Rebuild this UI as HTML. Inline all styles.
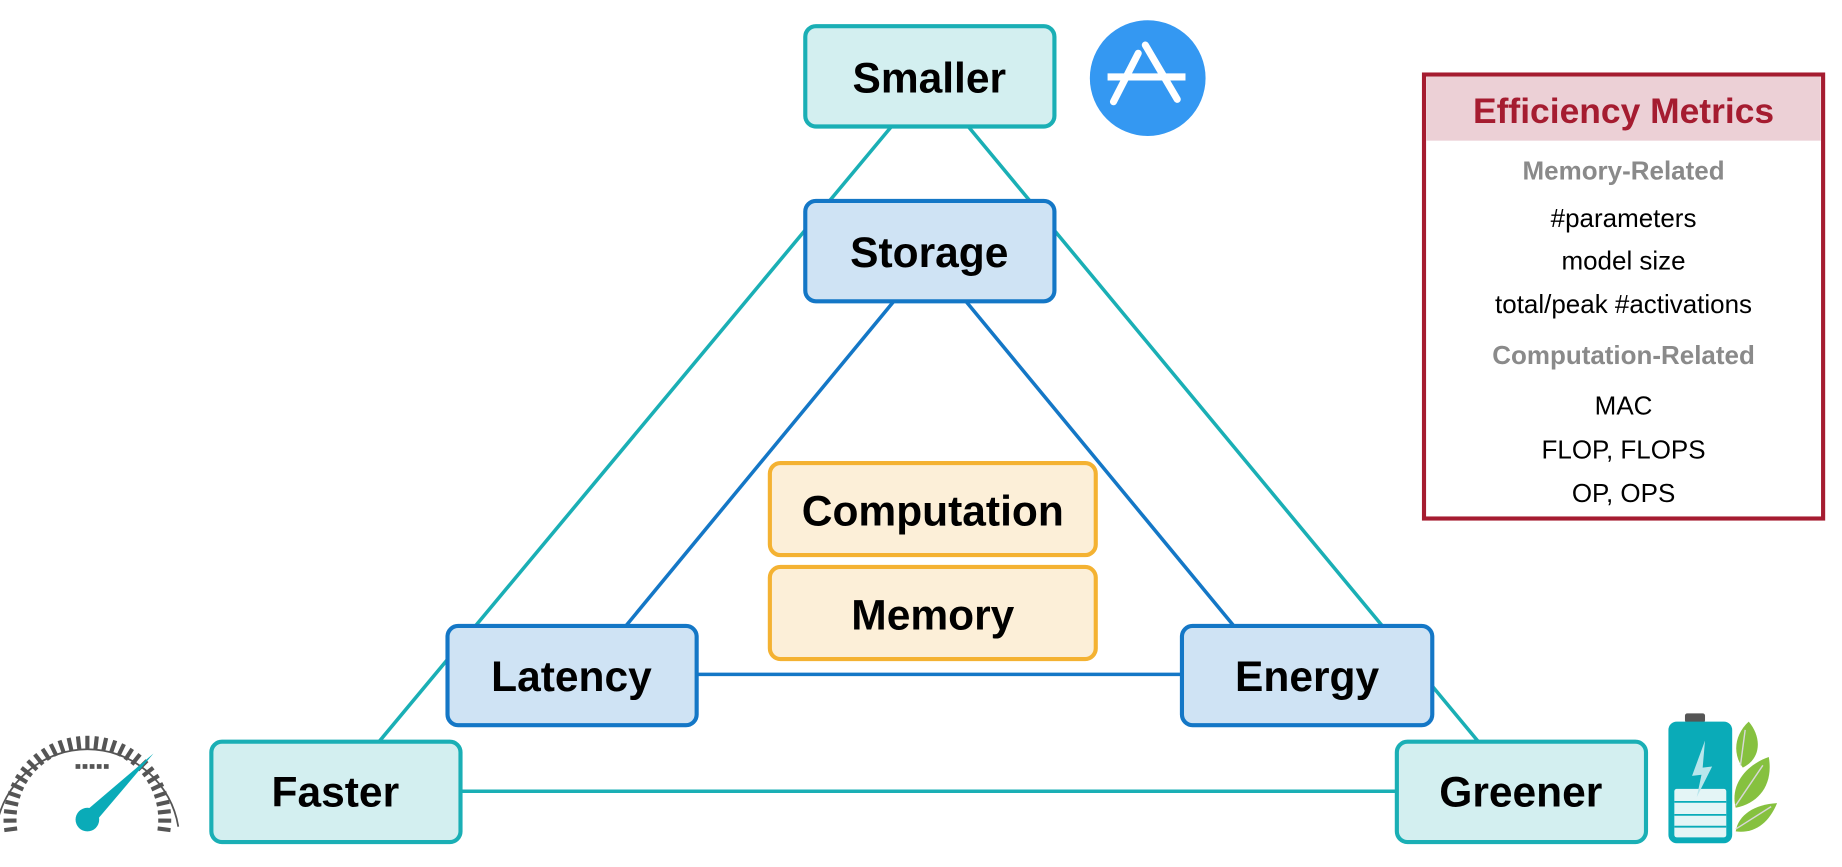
<!DOCTYPE html>
<html><head><meta charset="utf-8"><style>
html,body{margin:0;padding:0;background:#fff;}
svg{display:block;}
text{font-family:"Liberation Sans",Arial,sans-serif;}
</style></head><body>
<svg width="1842" height="867" viewBox="0 0 1560 734" xmlns="http://www.w3.org/2000/svg">
<g stroke="#1aafb5" stroke-width="3" fill="none">
<line x1="755" y1="107" x2="321" y2="628"/>
<line x1="820" y1="107" x2="1252" y2="628"/>
<line x1="390" y1="670" x2="1183" y2="670"/>
</g>
<g stroke="#1477c6" stroke-width="3" fill="none">
<line x1="757" y1="255" x2="530" y2="530"/>
<line x1="818" y1="255" x2="1045" y2="530"/>
<line x1="590" y1="571" x2="1001" y2="571"/>
</g>
<g stroke="#1aafb5" stroke-width="3.5" fill="#d3eff0">
<rect x="682" y="22" width="211" height="85" rx="9"/>
<rect x="179" y="628" width="211" height="85" rx="9"/>
<rect x="1183" y="628" width="211" height="85" rx="9"/>
</g>
<g stroke="#1477c6" stroke-width="3.5" fill="#cfe3f4">
<rect x="682" y="170" width="211" height="85" rx="9"/>
<rect x="379" y="530" width="211" height="84" rx="9"/>
<rect x="1001" y="530" width="212" height="84" rx="9"/>
</g>
<g stroke="#f4b232" stroke-width="3.5" fill="#fcefd8">
<rect x="652" y="392" width="276" height="78" rx="9"/>
<rect x="652" y="480" width="276" height="78" rx="9"/>
</g>
<g font-weight="bold" font-size="36" text-anchor="middle" fill="#000">
<text x="787" y="78">Smaller</text>
<text x="787" y="226">Storage</text>
<text x="484" y="585">Latency</text>
<text x="1107" y="585">Energy</text>
<text x="284" y="683">Faster</text>
<text x="1288" y="683">Greener</text>
<text x="790" y="445">Computation</text>
<text x="790" y="533">Memory</text>
</g>
<rect x="1206" y="63" width="338" height="376" fill="#fff" stroke="#a51c30" stroke-width="3.5"/>
<rect x="1208" y="65" width="334" height="54" fill="#ecd0d6"/>
<text x="1375" y="104" text-anchor="middle" font-size="30" font-weight="bold" fill="#a51c30">Efficiency Metrics</text>
<g text-anchor="middle" font-size="22">
<text x="1375" y="152" font-weight="bold" fill="#8a8a8a">Memory-Related</text>
<text x="1375" y="192">#parameters</text>
<text x="1375" y="228">model size</text>
<text x="1375" y="265">total/peak #activations</text>
<text x="1375" y="308" font-weight="bold" fill="#8a8a8a">Computation-Related</text>
<text x="1375" y="351">MAC</text>
<text x="1375" y="388">FLOP, FLOPS</text>
<text x="1375" y="425">OP, OPS</text>
</g>
<!-- app store icon -->
<circle cx="972" cy="66" r="49" fill="#3498f2"/>
<g stroke="#fff" fill="none">
<line x1="938" y1="65" x2="1004" y2="65" stroke-width="6"/>
<line x1="964" y1="45" x2="943" y2="86" stroke-width="6" stroke-linecap="round"/>
<line x1="970" y1="38" x2="997" y2="84" stroke-width="6" stroke-linecap="round"/>
</g>
<!-- speedometer -->
<g transform="translate(74,694)">
<path d="M-77,6 A78,78 0 0 1 77,6" fill="none" stroke="#555" stroke-width="1.5"/>
<g id="ticks" stroke="#555" stroke-width="3.5"></g>
<path d="M-4,-5 L56,-56 L5,4 Z" fill="#0aabb8"/>
<circle cx="0" cy="0" r="10" fill="#0aabb8"/>
<g fill="#555"><rect x="-10" y="-47" width="4" height="4"/><rect x="-4" y="-47" width="4" height="4"/><rect x="2" y="-47" width="4" height="4"/><rect x="8" y="-47" width="4" height="4"/><rect x="14" y="-47" width="4" height="4"/></g>
</g>
<!-- battery -->
<rect x="1427" y="604" width="17" height="8" rx="2" fill="#555"/>
<rect x="1413" y="611" width="54" height="103" rx="7" fill="#0aabb8"/>
<rect x="1418" y="668" width="44" height="41" rx="2" fill="#e4f5f6"/>
<g stroke="#0aabb8" stroke-width="1.5"><line x1="1418" y1="679" x2="1462" y2="679"/><line x1="1418" y1="690" x2="1462" y2="690"/><line x1="1418" y1="700" x2="1462" y2="700"/></g>
<path d="M1444,627 L1433,657 L1441,656 L1437,675 L1450,649 L1442,650 Z" fill="#b8e6ec"/>
<g fill="#86c13f">
<path d="M1481,611 C1492,624 1492,642 1476,650 C1467,638 1469,622 1481,611 Z"/>
<path d="M1498,641 C1502,664 1490,680 1470,684 C1465,665 1478,648 1498,641 Z"/>
<path d="M1505,680 C1498,697 1486,706 1470,704 C1472,690 1486,681 1505,680 Z"/>
</g>
<g stroke="#d8d8d8" stroke-width="1.2" fill="none">
<path d="M1478,618 L1474,648"/><path d="M1493,648 L1470,682"/><path d="M1500,683 L1470,702"/>
</g>
</svg>
<script>
var g=document.getElementById('ticks');var s='';
for(var i=0;i<=30;i++){var a=Math.PI*(1.04-i/30*1.08);
var c=Math.cos(a),n=-Math.sin(a);
s+='<line x1="'+(c*60).toFixed(1)+'" y1="'+(n*60).toFixed(1)+'" x2="'+(c*71).toFixed(1)+'" y2="'+(n*71).toFixed(1)+'"/>';}
g.innerHTML=s;
</script>
</body></html>
